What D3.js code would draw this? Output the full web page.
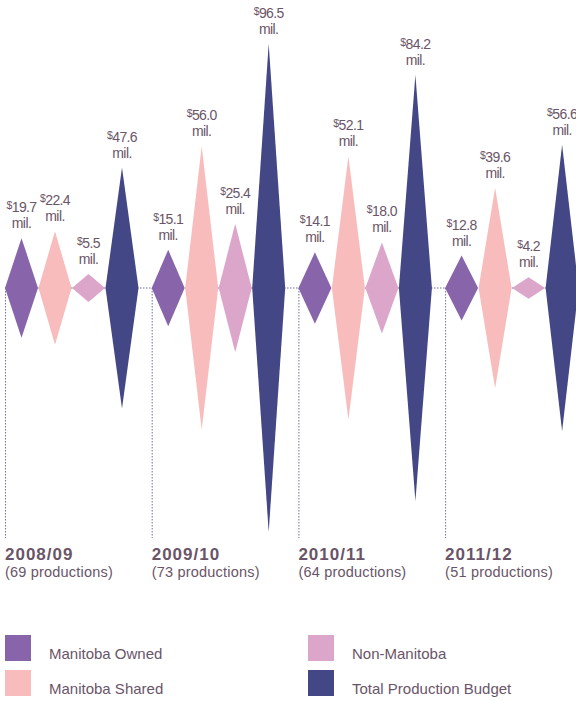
<!DOCTYPE html>
<html>
<head>
<meta charset="utf-8">
<script src="https://cdn.jsdelivr.net/npm/d3@7"></script>
<style>
  html, body { margin: 0; padding: 0; background: #fff; }
  svg { display: block; font-family: "Liberation Sans", Arial, sans-serif; }
</style>
</head>
<body>
<svg id="chart" width="576" height="701"></svg>
<script>
// data
const YEARS = ["2008/09", "2009/10", "2010/11", "2011/12"];
const PRODUCTIONS = [69, 73, 64, 51];
const SERIES = ["Manitoba Owned", "Manitoba Shared", "Non-Manitoba", "Total Production Budget"];
const OWNED = [19.7, 15.1, 14.1, 12.8];
const SHARED = [22.4, 56.0, 52.1, 39.6];
const NON_MB = [5.5, 25.4, 18.0, 4.2];
const TOTAL = [47.6, 96.5, 84.2, 56.6];

const COLORS = {
  "Manitoba Owned": "#8865aa",
  "Manitoba Shared": "#f8bcbc",
  "Non-Manitoba": "#dca6cb",
  "Total Production Budget": "#444786"
};
const TEXT = "#6a5568";
const DOT = "#6e6ea6";

const width = 576;
const baseY = 288;

let svg = d3.select("#chart");

let groups = YEARS.map(function(yr, i) {
  return {
    year: yr,
    prod: PRODUCTIONS[i],
    values: [OWNED[i], SHARED[i], NON_MB[i], TOTAL[i]].map(function(v, j) {
      return { key: SERIES[j], value: v };
    })
  };
});

let x0 = d3.scaleBand().domain(YEARS).range([5, 5 + 4 * 146.7]);
let x1 = d3.scaleBand().domain(SERIES).range([0, 134]);
let h = d3.scaleLinear().domain([0, 100]).range([0, 253]);

// dotted baseline and drop lines
svg.append("line")
  .attr("x1", x0(YEARS[0])).attr("x2", width)
  .attr("y1", baseY).attr("y2", baseY)
  .attr("stroke", DOT).attr("stroke-width", 1.2)
  .attr("stroke-dasharray", "1.5,1.5");

svg.selectAll("line.drop")
  .data(groups)
  .enter()
  .append("line")
  .attr("class", "drop")
  .attr("x1", d => x0(d.year) + 0.5).attr("x2", d => x0(d.year) + 0.5)
  .attr("y1", baseY).attr("y2", 538)
  .attr("stroke", DOT).attr("stroke-width", 1)
  .attr("stroke-dasharray", "1.5,1.5");

// diamonds
let g = svg.selectAll("g.year")
  .data(groups)
  .enter()
  .append("g")
  .attr("class", "year")
  .attr("transform", d => `translate(${x0(d.year)},0)`);

let bw = x1.bandwidth() - 0.5;

g.selectAll("path")
  .data(d => d.values)
  .enter()
  .append("path")
  .attr("fill", d => COLORS[d.key])
  .attr("d", function(d) {
    let l = x1(d.key), c = l + bw / 2, r = l + bw, hh = h(d.value);
    return `M${l},${baseY}L${c},${baseY - hh}L${r},${baseY}L${c},${baseY + hh}Z`;
  });

// value labels
let lab = g.selectAll("g.lab")
  .data(d => d.values)
  .enter()
  .append("g")
  .attr("class", "lab")
  .attr("transform", d => `translate(${x1(d.key) + bw / 2},${baseY - h(d.value)})`)
  .attr("fill", TEXT)
  .attr("text-anchor", "middle")
  .style("font-size", "14px")
  .style("letter-spacing", "-0.6px");

let num = lab.append("text").attr("y", -26);
num.append("tspan").style("font-size", "10.5px").attr("dy", -3).text("$");
num.append("tspan").attr("dy", 3).text(d => d.value.toFixed(1));

lab.append("text").attr("y", -10).text("mil.");

// year labels
g.append("text")
  .attr("x", 0).attr("y", 560)
  .attr("fill", TEXT)
  .style("font-size", "17px").style("font-weight", "bold").style("letter-spacing", "1px")
  .text(d => d.year);

g.append("text")
  .attr("x", 0).attr("y", 577)
  .attr("fill", TEXT)
  .style("font-size", "14.5px")
  .style("letter-spacing", "0.2px")
  .text(d => `(${d.prod} productions)`);

// legend
let legPos = [[5, 635], [5, 670], [308, 635], [308, 670]];
let leg = svg.selectAll("g.leg")
  .data(SERIES)
  .enter()
  .append("g")
  .attr("class", "leg")
  .attr("transform", (d, i) => `translate(${legPos[i][0]},${legPos[i][1]})`);

leg.append("rect")
  .attr("width", 26).attr("height", 26)
  .attr("fill", d => COLORS[d]);

leg.append("text")
  .attr("x", 44).attr("y", 24)
  .attr("fill", TEXT)
  .style("font-size", "15px")
  .text(d => d);
</script>
</body>
</html>
